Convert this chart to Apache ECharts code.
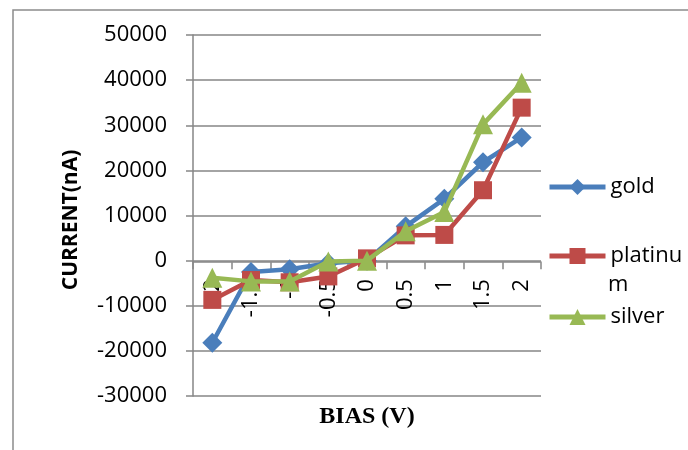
<!DOCTYPE html>
<html><head><meta charset="utf-8">
<script src="https://cdn.jsdelivr.net/npm/echarts@6/dist/echarts.min.js"></script>
<style>html,body{margin:0;padding:0;background:#fff}#c{width:688px;height:450px}</style>
</head><body><div id="c"></div>
<script>
const categories = ['-2','-1.5','-1','-0.5','0','0.5','1','1.5','2'];
const gold = [-18200,-2500,-1900,-600,0,7600,13700,21800,27300];
const platinum = [-8700,-4300,-4800,-3500,500,5600,5700,15600,33900];
const silver = [-3800,-4600,-4600,-200,0,6500,10800,30200,39400];
const yTicks = {min:-30000,max:50000,interval:10000};

const font = 'Open Sans, Noto Sans, sans-serif';
const chart = echarts.init(document.getElementById('c'));
function legendItem(name, top){
  return {
    data:[name], orient:'vertical', left:547, top:top, padding:0,
    itemWidth:56, itemHeight:20, itemGap:0,
    lineStyle:{width:5},
    textStyle:{fontFamily:font,fontSize:22,color:'#000',lineHeight:20},
    formatter: n => n==='platinum' ? 'platinu' : n
  };
}
chart.setOption({
  animation:false,
  backgroundColor:'#fff',
  graphic:[
    {type:'polyline',shape:{points:[[13,450],[13,10],[688,10]]},style:{stroke:'#8c8c8c',lineWidth:1.5,fill:null}},
    {type:'text',x:367,y:417,style:{text:'BIAS (V)',align:'center',verticalAlign:'middle',font:'bold 24px "Liberation Serif", serif',fill:'#000'}},
    {type:'text',rotation:Math.PI/2,x:71,y:220,style:{text:'CURRENT(nA)',align:'center',verticalAlign:'middle',font:'bold 21px "Open Sans", sans-serif',fill:'#000'}},
    {type:'text',x:608,y:285,style:{text:'m',align:'left',verticalAlign:'middle',font:'22px "Open Sans", sans-serif',fill:'#000'}}
  ],
  legend:[legendItem('gold',176), legendItem('platinum',245), legendItem('silver',306)],
  grid:{left:193,right:147,top:35,bottom:54},
  xAxis:{
    type:'category', data:categories, boundaryGap:true, offset:0, z:0,
    axisLine:{onZero:false,lineStyle:{color:'#868686',width:1.5}},
    axisTick:{show:true,length:7,lineStyle:{color:'#868686',width:1.5}},
    axisLabel:{rotate:90,fontFamily:font,fontSize:22,color:'#000',margin:17}
  },
  yAxis:{
    type:'value', min:yTicks.min, max:yTicks.max, interval:yTicks.interval, z:0,
    axisLine:{show:true,lineStyle:{color:'#868686',width:1.5}},
    axisTick:{show:true,length:7,lineStyle:{color:'#868686',width:1.5}},
    splitLine:{lineStyle:{color:'#868686',width:1.5}},
    axisLabel:{fontFamily:font,fontSize:22,color:'#000',margin:26,formatter:v=>String(v)}
  },
  series:[
    {name:'gold',type:'line',z:5,data:gold,color:'#4A7EBB',symbol:'diamond',symbolSize:20,lineStyle:{width:4.5},itemStyle:{color:'#4A7EBB'}},
    {name:'platinum',type:'line',z:6,data:platinum,color:'#BE4B48',symbol:'rect',symbolSize:18,lineStyle:{width:4.5},itemStyle:{color:'#BE4B48'}},
    {name:'silver',type:'line',z:7,data:silver,color:'#98B954',symbol:'triangle',symbolSize:20,lineStyle:{width:4.5},itemStyle:{color:'#98B954'}}
  ]
});
// move the category axis onto the value-axis zero line (library scale)
const yZero = chart.convertToPixel({yAxisIndex:0}, 0);
const yBottom = chart.convertToPixel({yAxisIndex:0}, yTicks.min);
chart.setOption({xAxis:{offset: yZero - yBottom}});
</script></body></html>
